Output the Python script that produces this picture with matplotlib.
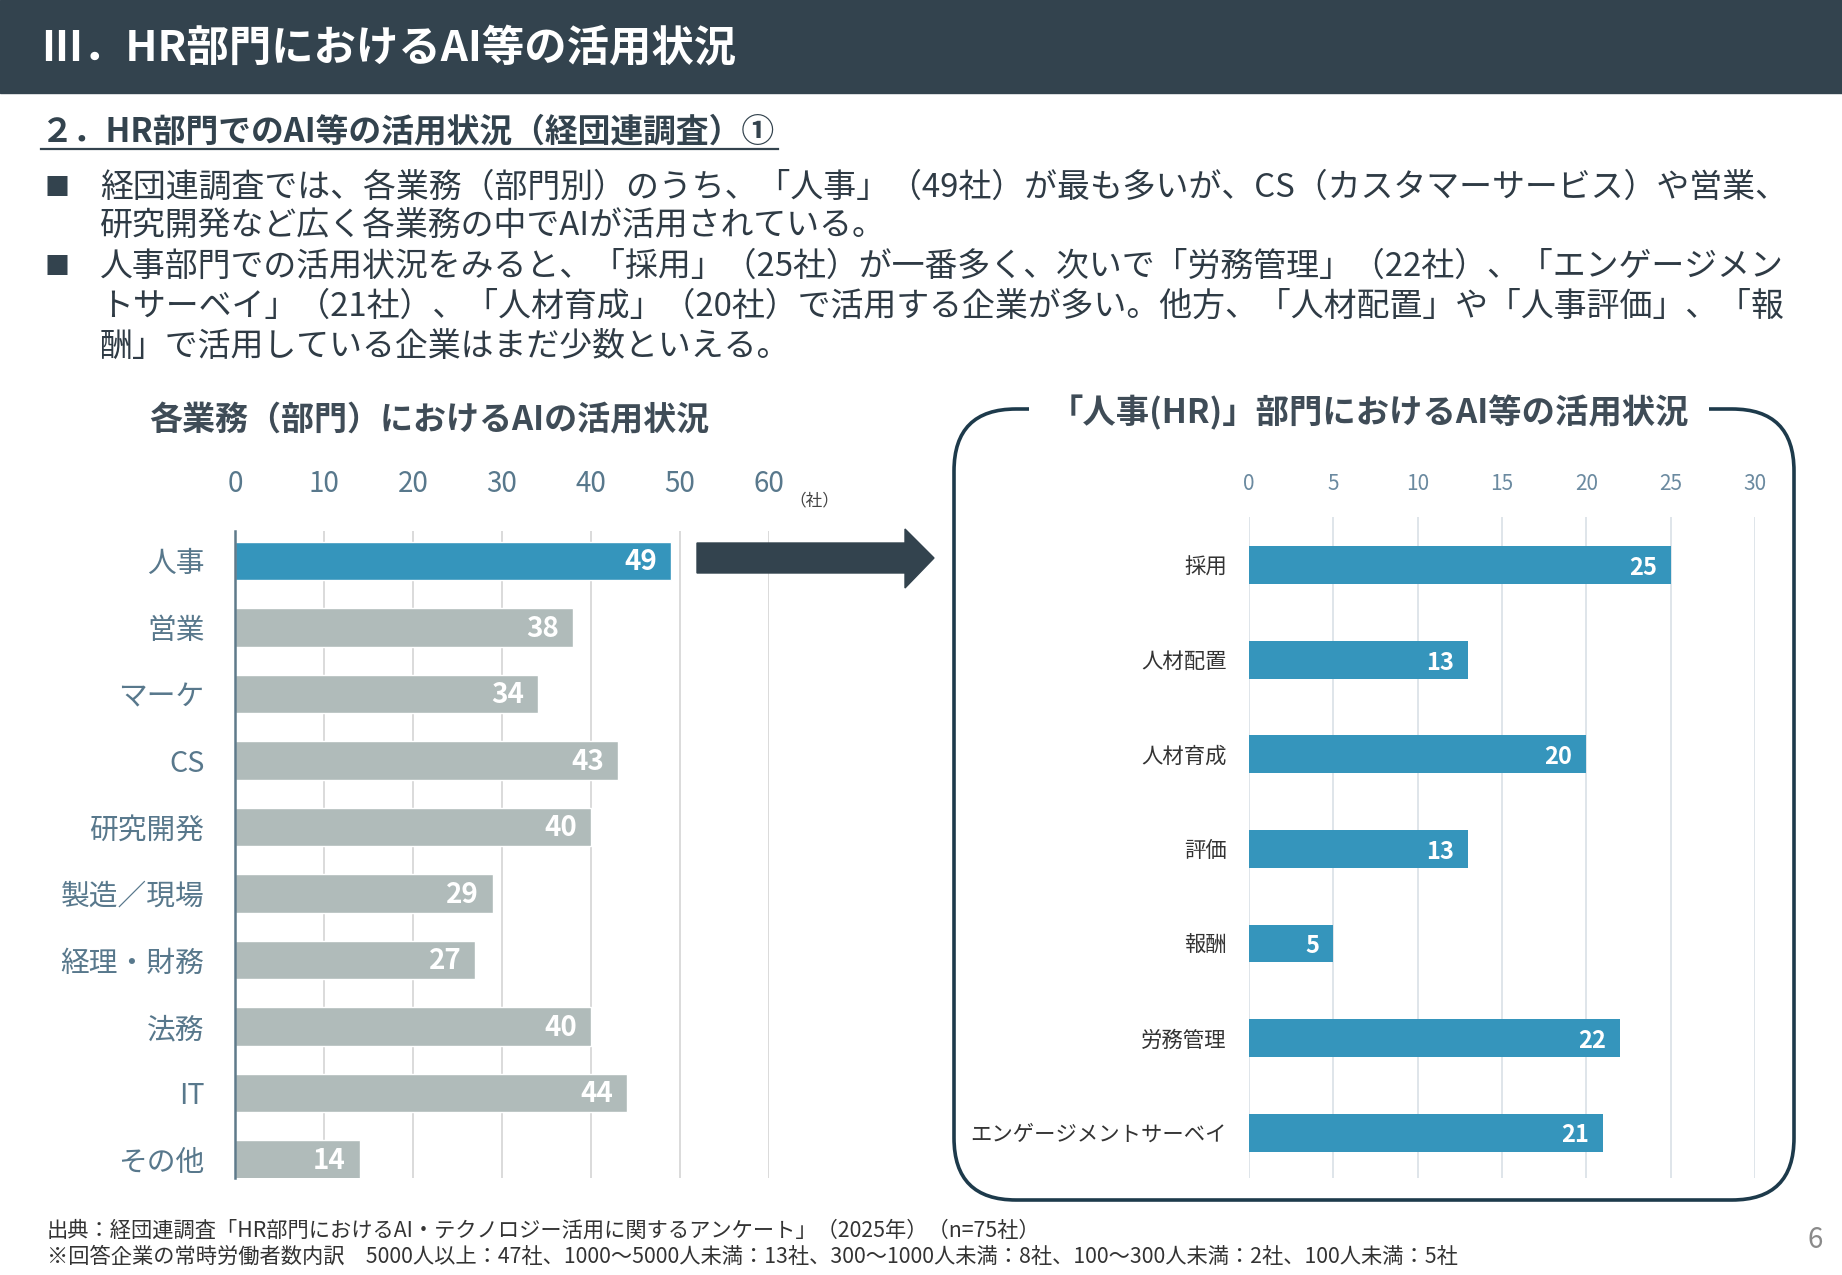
import matplotlib
matplotlib.use('Agg')
import matplotlib.pyplot as plt
from matplotlib.patches import Rectangle, FancyBboxPatch, Polygon

plt.rcParams['font.family'] = ['Noto Sans CJK JP', 'DejaVu Sans']

# data
dept_labels = ['人事', '営業', 'マーケ', 'CS', '研究開発', '製造／現場', '経理・財務', '法務', 'IT', 'その他']
dept_counts = [49, 38, 34, 43, 40, 29, 27, 40, 44, 14]
dept_ticks = [0, 10, 20, 30, 40, 50, 60]

hr_labels = ['採用', '人材配置', '人材育成', '評価', '報酬', '労務管理', 'エンゲージメントサーベイ']
hr_counts = [25, 13, 20, 13, 5, 22, 21]
hr_ticks = [0, 5, 10, 15, 20, 25, 30]

title = 'III．HR部門におけるAI等の活用状況'
subtitle = '２．HR部門でのAI等の活用状況（経団連調査）①'
bullet_lines = [
    ['経団連調査では、各業務（部門別）のうち、「人事」（49社）が最も多いが、CS（カスタマーサービス）や営業、',
     '研究開発など広く各業務の中でAIが活用されている。'],
    ['人事部門での活用状況をみると、「採用」（25社）が一番多く、次いで「労務管理」（22社）、「エンゲージメン',
     'トサーベイ」（21社）、「人材育成」（20社）で活用する企業が多い。他方、「人材配置」や「人事評価」、「報',
     '酬」で活用している企業はまだ少数といえる。'],
]
notes = ['出典：経団連調査「HR部門におけるAI・テクノロジー活用に関するアンケート」（2025年）（n=75社）',
         '※回答企業の常時労働者数内訳　5000人以上：47社、1000～5000人未満：13社、300～1000人未満：8社、100～300人未満：2社、100人未満：5社']

W, H = 1842, 1275
DARK = '#33434e'
BLUE = '#3595bc'
GREY = '#b0bbba'

fig = plt.figure(figsize=(W / 100, H / 100), dpi=100)


def px_axes(x0, y0, x1, y1):
    # axes placed by pixel box (top-left origin)
    return fig.add_axes([x0 / W, 1 - y1 / H, (x1 - x0) / W, (y1 - y0) / H])


# left chart: each department
ax1 = px_axes(235, 531, 769, 1178)
ypos = list(range(len(dept_labels)))
colors = [BLUE if i == 0 else GREY for i in ypos]
ax1.barh(ypos, dept_counts, height=0.58, color=colors, edgecolor='white', linewidth=1, zorder=3)
ax1.set_xlim(0, 60)
ax1.set_ylim(9.28, -0.45)
ax1.set_yticks(ypos)
ax1.set_yticklabels(dept_labels, fontsize=20.7, color='#58788c')
ax1.set_xticks(dept_ticks)
ax1.set_xticklabels([str(t) for t in dept_ticks], fontsize=20, color='#58788c')
ax1.xaxis.tick_top()
ax1.tick_params(axis='x', length=0, pad=23)
ax1.tick_params(axis='y', length=0, pad=22)
ax1.grid(axis='x', color='#d4d4d4', linewidth=1.2, zorder=0)
for s in ['top', 'right', 'bottom']:
    ax1.spines[s].set_visible(False)
ax1.spines['left'].set_color('#5f7a8a')
ax1.spines['left'].set_linewidth(1.8)
ax1.spines['left'].set_zorder(4)
for i, v in enumerate(dept_counts):
    ax1.annotate(str(v), (v, i), xytext=(-10, -1), textcoords='offset points',
                 ha='right', va='center', fontsize=20, fontweight='bold', color='white', zorder=5)

# right chart: HR functions
ax2 = px_axes(1249, 517, 1755, 1178)
ypos2 = list(range(len(hr_labels)))
ax2.barh(ypos2, hr_counts, height=0.4, color=BLUE, zorder=3)
ax2.set_xlim(0, 30)
ax2.set_ylim(6.48, -0.51)
ax2.set_yticks(ypos2)
ax2.set_yticklabels(hr_labels, fontsize=15.4, color='#333333')
ax2.set_xticks(hr_ticks)
ax2.set_xticklabels([str(t) for t in hr_ticks], fontsize=15, color='#6b8aa0')
ax2.xaxis.tick_top()
ax2.tick_params(axis='x', length=0, pad=16)
ax2.tick_params(axis='y', length=0, pad=16)
ax2.grid(axis='x', color='#d9e0e6', linewidth=1.2, zorder=0)
for s in ax2.spines.values():
    s.set_visible(False)
for i, v in enumerate(hr_counts):
    ax2.annotate(str(v), (v, i), xytext=(-10, -2), textcoords='offset points',
                 ha='right', va='center', fontsize=17, fontweight='bold', color='white', zorder=5)

# overlay in pixel coordinates for the page decoration
ov = fig.add_axes([0, 0, 1, 1])
ov.set_xlim(0, W)
ov.set_ylim(H, 0)
ov.axis('off')
ov.patch.set_alpha(0)

ov.add_patch(Rectangle((0, 0), W, 93, color=DARK, zorder=1))
ov.text(41, 49, title, fontsize=30.5, fontweight='bold', color='white', va='center', ha='left')

ov.text(41, 132, subtitle, fontsize=23.6, fontweight='bold', color=DARK, va='center', ha='left')
ov.plot([41, 778], [149, 149], color=DARK, lw=1.6)

line_y = [[188, 227], [267, 307, 347]]
for lines, ys in zip(bullet_lines, line_y):
    ov.text(57, ys[0], '■', fontsize=18, color=DARK, va='center', ha='center')
    for txt, y in zip(lines, ys):
        ov.text(100, y, txt, fontsize=23.7, color='#2f3b45', va='center', ha='left')

ov.text(429, 421, '各業務（部門）におけるAIの活用状況', fontsize=23.8, fontweight='bold',
        color='#3f4c57', va='center', ha='center')
ov.text(814, 501, '（社）', fontsize=12, color='#444444', va='center', ha='center')

# arrow from left chart to right panel
ov.add_patch(Polygon([(697, 543), (905, 543), (905, 529), (934, 558),
                      (905, 588), (905, 573), (697, 573)], closed=True, color=DARK, zorder=5))

# rounded frame around right chart
ov.add_patch(FancyBboxPatch((954, 409), 840, 791, boxstyle='round,pad=0,rounding_size=62',
                            facecolor='none', edgecolor='#1d3a4b', linewidth=2.6, zorder=2))
ov.text(1369, 413, '「人事(HR)」部門におけるAI等の活用状況', fontsize=24, fontweight='bold',
        color='#3f4c57', va='center', ha='center', zorder=4,
        bbox=dict(facecolor='white', edgecolor='none', pad=15))

ov.text(47, 1231, notes[0], fontsize=15.3, color='#333333', va='center', ha='left')
ov.text(47, 1257, notes[1], fontsize=15.3, color='#333333', va='center', ha='left')
ov.text(1815, 1240, '6', fontsize=20, color='#8a8a8a', va='center', ha='center')

fig.savefig('out.png', dpi=100)
